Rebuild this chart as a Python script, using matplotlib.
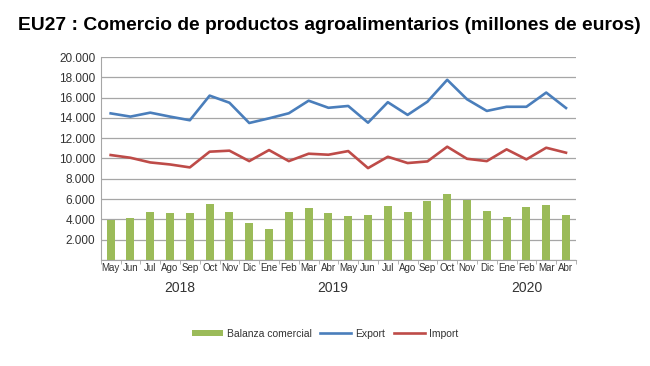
import numpy as np
import matplotlib
matplotlib.use("Agg")
import matplotlib.pyplot as plt
from matplotlib.ticker import FuncFormatter, MultipleLocator
import matplotlib.transforms as mtransforms

plt.rcParams['font.family'] = ['Liberation Sans', 'DejaVu Sans']

# datos (millones de euros)
meses = ["May", "Jun", "Jul", "Ago", "Sep", "Oct", "Nov", "Dic", "Ene", "Feb", "Mar", "Abr",
         "May", "Jun", "Jul", "Ago", "Sep", "Oct", "Nov", "Dic", "Ene", "Feb", "Mar", "Abr"]
export = [14450, 14130, 14520, 14130, 13770, 16200, 15500, 13500, 13960, 14460, 15700, 15000,
          15180, 13530, 15550, 14300, 15600, 17760, 15840, 14690, 15100, 15100, 16500, 14980]
importe = [10340, 10070, 9610, 9410, 9120, 10670, 10770, 9740, 10830, 9740, 10470, 10370,
           10730, 9050, 10170, 9550, 9710, 11160, 9970, 9740, 10900, 9910, 11060, 10570]
balanza = [3970, 4100, 4760, 4600, 4600, 5520, 4760, 3680, 3020, 4700, 5130, 4600,
           4340, 4470, 5290, 4700, 5790, 6540, 5880, 4860, 4200, 5190, 5390, 4470]
anios = ["2018", "2019", "2020"]
pos_anios = [3.5, 11.2, 21.0]

x = np.arange(len(meses))

fig = plt.figure(figsize=(6.5, 3.66), dpi=100)
ax = fig.add_axes([0.155, 0.290, 0.731, 0.554])

b = ax.bar(x, balanza, width=0.4, color="#9bbb59", label="Balanza comercial", zorder=2)
l1, = ax.plot(x, export, color="#4a7ebb", lw=1.9, label="Export", zorder=3)
l2, = ax.plot(x, importe, color="#be4b48", lw=1.9, label="Import", zorder=3)

ax.set_xlim(-0.5, len(meses) - 0.5)
ax.set_ylim(0, 20000)
ax.yaxis.set_major_locator(MultipleLocator(2000))
ax.yaxis.set_major_formatter(FuncFormatter(lambda v, p: "" if v == 0 else f"{int(v):,}".replace(",", ".")))
ax.grid(axis="y", color="#a6a6a6", lw=0.9, zorder=0)
ax.set_axisbelow(True)

for s in ["top", "right"]:
    ax.spines[s].set_visible(False)
ax.spines["left"].set_color("#a6a6a6")
ax.spines["bottom"].set_color("#a6a6a6")

ax.set_xticks(x)
ax.set_xticklabels(meses, fontsize=7, color="#333333")
ax.set_xticks(np.arange(-0.5, len(meses)), minor=True)
ax.tick_params(axis="x", which="major", length=0, pad=2)
ax.tick_params(axis="x", which="minor", length=3, color="#a6a6a6")
ax.tick_params(axis="y", length=0, labelsize=8.5, colors="#333333", pad=4)

trans = mtransforms.blended_transform_factory(ax.transData, ax.transAxes)
for a, p in zip(anios, pos_anios):
    ax.text(p, -0.105, a, transform=trans, ha="center", va="top", fontsize=10, color="#333333")

fig.text(0.028, 0.93, "EU27 : Comercio de productos agroalimentarios (millones de euros)",
         fontsize=13.9, fontweight="bold", ha="left", va="center")

leg = fig.legend([b, l1, l2], ["Balanza comercial", "Export", "Import"],
                 loc="center", bbox_to_anchor=(0.5, 0.088), ncol=3, frameon=False,
                 fontsize=7.5, handlelength=3.0, handleheight=0.5, columnspacing=0.8,
                 handletextpad=0.4)
for t in leg.get_texts():
    t.set_color("#333333")

fig.savefig("out.png", dpi=100)
